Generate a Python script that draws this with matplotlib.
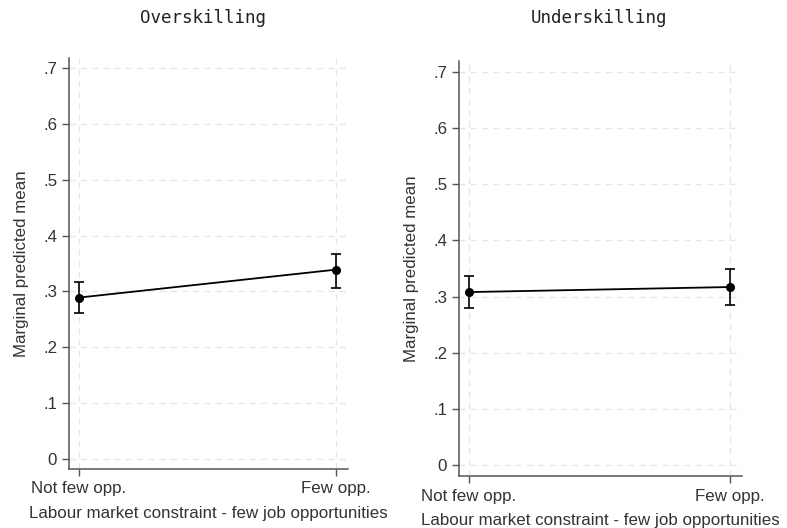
import matplotlib
matplotlib.use("Agg")
import matplotlib.pyplot as plt

categories = ["Not few opp.", "Few opp."]
panel_titles = ["Overskilling", "Underskilling"]

over_mean = [0.289, 0.339]
over_lo = [0.261, 0.307]
over_hi = [0.316, 0.367]

under_mean = [0.308, 0.317]
under_lo = [0.280, 0.285]
under_hi = [0.337, 0.349]

yticks = [0, 0.1, 0.2, 0.3, 0.4, 0.5, 0.6, 0.7]
ytick_labels = ["0", ".1", ".2", ".3", ".4", ".5", ".6", ".7"]

W, H = 787, 528
fig = plt.figure(figsize=(W / 100, H / 100), dpi=100)

def box(l, r, t, b):
    return [l / W, 1 - b / H, (r - l) / W, (b - t) / H]

panels = [
    (box(69, 348, 58, 469), panel_titles[0], over_mean, over_lo, over_hi, (-0.018, 0.718), (-0.039, 1.047), 203),
    (box(459, 742, 61, 476), panel_titles[1], under_mean, under_lo, under_hi, (-0.0196, 0.7196), (-0.038, 1.046), 599),
]

axis_col = "#555555"
text_col = "#333333"
fs = 12.2

for rect, title, mean, lo, hi, ylim, xlim, tx in panels:
    ax = fig.add_axes(rect)
    x = list(range(len(categories)))
    yerr = [[m - l for m, l in zip(mean, lo)], [h - m for h, m in zip(hi, mean)]]
    ax.errorbar(x, mean, yerr=yerr, color="black", lw=1.3, marker="o", ms=5.5,
                capsize=3.5, capthick=1.2, elinewidth=1.2, zorder=3)
    ax.set_xlim(*xlim)
    ax.set_ylim(*ylim)
    ax.set_xticks(x)
    ax.set_xticklabels(categories, fontsize=fs, color=text_col, family="Liberation Sans")
    ax.set_yticks(yticks)
    ax.set_yticklabels(ytick_labels, fontsize=fs, color=text_col, family="Liberation Sans")
    ax.grid(True, ls=(0, (5, 4)), color="#e6e6e6", lw=0.9)
    ax.set_axisbelow(True)
    for s in ["top", "right"]:
        ax.spines[s].set_visible(False)
    for s in ["left", "bottom"]:
        ax.spines[s].set_color(axis_col)
        ax.spines[s].set_linewidth(1.1)
    ax.tick_params(axis="both", colors=axis_col, length=5, width=1.0, labelcolor=text_col)
    ax.tick_params(axis="x", pad=4)
    ax.set_xlabel("Labour market constraint - few job opportunities", fontsize=fs,
                  color=text_col, family="Liberation Sans", labelpad=7)
    ax.set_ylabel("Marginal predicted mean", fontsize=fs, color=text_col,
                  family="Liberation Sans", labelpad=10)
    fig.text(tx / W, 1 - 18 / H, title, ha="center", va="center",
             family="DejaVu Sans Mono", fontsize=12.6, color="#222222")

fig.savefig("out.png", dpi=100, facecolor="white")
